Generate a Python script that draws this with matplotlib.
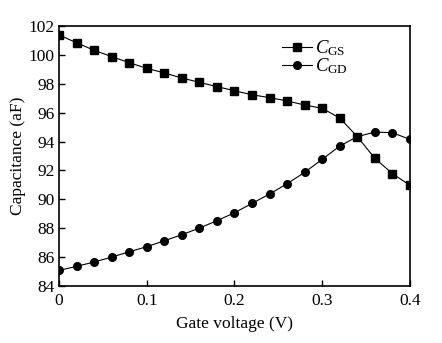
import numpy as np
import matplotlib
matplotlib.use('Agg')
import matplotlib.pyplot as plt

# Gate voltage sweep (V)
voltage = [0.00, 0.02, 0.04, 0.06, 0.08, 0.10, 0.12, 0.14, 0.16, 0.18, 0.20,
           0.22, 0.24, 0.26, 0.28, 0.30, 0.32, 0.34, 0.36, 0.38, 0.40]

# Gate-source capacitance (aF)
c_gs = [101.38, 100.84, 100.32, 99.88, 99.46, 99.07, 98.75, 98.40, 98.10, 97.80, 97.52,
        97.24, 97.04, 96.81, 96.53, 96.30, 95.63, 94.34, 92.84, 91.78, 90.97]

# Gate-drain capacitance (aF)
c_gd = [85.08, 85.36, 85.66, 86.00, 86.37, 86.72, 87.13, 87.55, 88.01, 88.52, 89.07,
        89.72, 90.37, 91.08, 91.87, 92.77, 93.69, 94.34, 94.66, 94.61, 94.15]

plt.rcParams['font.family'] = 'Liberation Serif'
plt.rcParams['mathtext.fontset'] = 'custom'
plt.rcParams['mathtext.rm'] = 'Liberation Serif'
plt.rcParams['mathtext.it'] = 'Liberation Serif:italic'

fig = plt.figure(figsize=(4.42, 3.43), dpi=100)
ax = fig.add_axes([0.1335, 0.1662, 0.794, 0.758])

ax.plot(voltage, c_gs, color='black', lw=0.8, marker='s', ms=5.5, label=r'$C_{\rm GS}$')
ax.plot(voltage, c_gd, color='black', lw=0.8, marker='o', ms=5.5, label=r'$C_{\rm GD}$')

ax.set_xlim(0, 0.4)
ax.set_ylim(84, 102)
ax.set_xticks([0, 0.1, 0.2, 0.3, 0.4])
ax.set_xticklabels(['0', '0.1', '0.2', '0.3', '0.4'])
ax.set_yticks(np.arange(84, 103, 2))
ax.tick_params(direction='in', length=4, width=1, labelsize=12.5, pad=5)
ax.tick_params(axis='y', pad=3)
for s in ax.spines.values():
    s.set_linewidth(1.2)

ax.set_xlabel('Gate voltage (V)', fontsize=12.5, labelpad=5)
ax.set_ylabel('Capacitance (aF)', fontsize=12.5, labelpad=2)

ax.legend(loc='upper left', bbox_to_anchor=(273 / 442, 1 - 29 / 343),
          bbox_transform=fig.transFigure, frameon=False, borderpad=0,
          fontsize=13.5, handlelength=1.6, handletextpad=0.15, labelspacing=-0.1)

fig.savefig('out.png', dpi=100)
